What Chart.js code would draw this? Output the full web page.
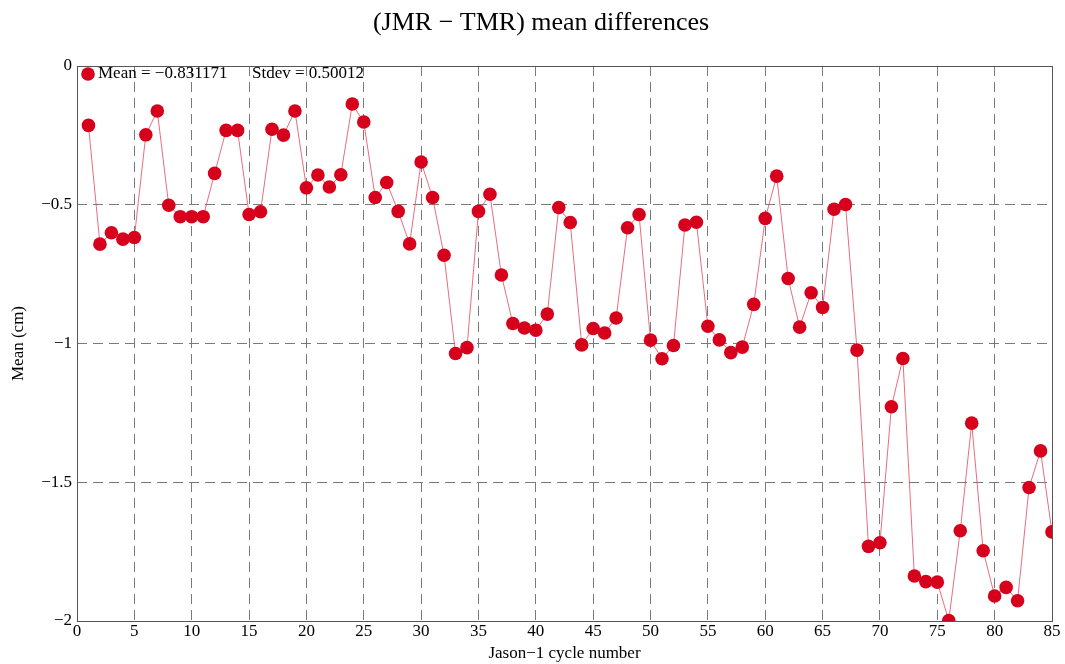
<!DOCTYPE html>
<html>
<head>
<meta charset="utf-8">
<script src="https://cdn.jsdelivr.net/npm/chart.js@4/dist/chart.umd.min.js"></script>
<style>
  html, body { margin: 0; padding: 0; background: #fff; }
  #wrap { width: 1065px; height: 664px; }
</style>
</head>
<body>
<div id="wrap"><canvas id="meanChart" width="1065" height="664"></canvas></div>
<script>
// Jason-1 cycles 1..85, (JMR - TMR) mean differences in cm
const cycles = [];
for (let c = 1; c <= 85; c++) cycles.push(c);

const meanValues = [
  -0.214, -0.642, -0.601, -0.624, -0.618, -0.248, -0.162, -0.502, -0.543, -0.543,
  -0.543, -0.387, -0.232, -0.232, -0.535, -0.525, -0.228, -0.249, -0.162, -0.439,
  -0.393, -0.436, -0.392, -0.137, -0.202, -0.474, -0.420, -0.524, -0.641, -0.346,
  -0.474, -0.682, -1.036, -1.015, -0.524, -0.462, -0.753, -0.928, -0.944, -0.952,
  -0.894, -0.510, -0.564, -1.005, -0.946, -0.962, -0.908, -0.583, -0.535, -0.988,
  -1.055, -1.007, -0.573, -0.563, -0.938, -0.987, -1.033, -1.013, -0.859, -0.549,
  -0.397, -0.766, -0.941, -0.817, -0.870, -0.516, -0.499, -1.024, -1.731, -1.718,
  -1.228, -1.054, -1.838, -1.858, -1.860, -1.998, -1.675, -1.287, -1.747, -1.910,
  -1.879, -1.927, -1.519, -1.387, -1.679
];

const titleText = "(JMR \u2212 TMR) mean differences";
const legendMean = "Mean = \u22120.831171";
const legendStdev = "Stdev = 0.50012";
const xTitle = "Jason\u22121 cycle number";
const yTitle = "Mean (cm)";

const serif = "'Liberation Serif', 'DejaVu Serif', serif";
const gridGrey = "#7a7a7a";
const markerRed = "#d6001c";

function minus(v) {
  return String(v).replace("-", "\u2212");
}

// grid lines at the plot edges are replaced by the solid frame
function edgeAwareGrid(ctx) {
  const scale = ctx.scale;
  if (!ctx.tick) return gridGrey;
  if (ctx.tick.value === scale.min || ctx.tick.value === scale.max) return "rgba(0,0,0,0)";
  return gridGrey;
}

const plotFrame = {
  id: "plotFrame",
  afterDatasetsDraw(chart) {
    const { ctx, chartArea } = chart;
    ctx.save();
    ctx.strokeStyle = "#555";
    ctx.lineWidth = 1;
    ctx.strokeRect(chartArea.left + 0.5, chartArea.top + 0.5, chartArea.right - chartArea.left, chartArea.bottom - chartArea.top);
    ctx.restore();
  }
};

// legend sits inside the top-left corner of the plot
const statsLegend = {
  id: "statsLegend",
  afterDraw(chart) {
    const { ctx, chartArea } = chart;
    const cy = chartArea.top + 8;
    ctx.save();
    ctx.fillStyle = markerRed;
    ctx.beginPath();
    ctx.arc(chartArea.left + 11, cy, 6.8, 0, Math.PI * 2);
    ctx.fill();
    ctx.fillStyle = "#000";
    ctx.font = "17px " + serif;
    ctx.textBaseline = "middle";
    ctx.textAlign = "left";
    ctx.fillText(legendMean, chartArea.left + 21, cy);
    ctx.fillText(legendStdev, chartArea.left + 175, cy);
    ctx.restore();
  }
};

new Chart(document.getElementById("meanChart"), {
  type: "line",
  data: {
    datasets: [
      {
        label: legendMean,
        data: cycles.map((c, i) => ({ x: c, y: meanValues[i] })),
        borderColor: "rgba(226, 60, 80, 0.75)",
        backgroundColor: markerRed,
        borderWidth: 1,
        pointRadius: 6.8,
        pointHoverRadius: 6.8,
        pointBackgroundColor: markerRed,
        pointBorderColor: markerRed,
        pointBorderWidth: 0,
        pointStyle: "circle",
        tension: 0
      }
    ]
  },
  plugins: [plotFrame, statsLegend],
  options: {
    responsive: false,
    animation: false,
    layout: { padding: { left: 30, right: 13, top: 0, bottom: 0 } },
    plugins: {
      title: {
        display: true,
        text: titleText,
        color: "#000",
        font: { family: serif, size: 26, weight: "normal" },
        padding: { top: 8, bottom: 26.8 }
      },
      legend: { display: false },
      tooltip: { enabled: false }
    },
    scales: {
      x: {
        type: "linear",
        min: 0,
        max: 85,
        afterFit: (scale) => { scale.height = 43; },
        ticks: {
          stepSize: 5,
          color: "#000",
          padding: 0,
          maxRotation: 0,
          font: { family: serif, size: 17 }
        },
        grid: { color: edgeAwareGrid, drawTicks: false, lineWidth: 1 },
        border: { display: false, dash: [10, 6] },
        title: {
          display: true,
          text: xTitle,
          color: "#000",
          font: { family: serif, size: 17 },
          padding: { top: 0, bottom: 0 }
        }
      },
      y: {
        min: -2,
        max: 0,
        afterFit: (scale) => { scale.width = 47; },
        ticks: {
          stepSize: 0.5,
          color: "#000",
          padding: 5,
          font: { family: serif, size: 17 },
          callback: (v) => minus(v)
        },
        grid: { color: edgeAwareGrid, drawTicks: false, lineWidth: 1 },
        border: { display: false, dash: [10, 6] },
        title: {
          display: true,
          text: yTitle,
          color: "#000",
          font: { family: serif, size: 17 },
          padding: { top: -22, bottom: 0 }
        }
      }
    }
  }
});
</script>
</body>
</html>
